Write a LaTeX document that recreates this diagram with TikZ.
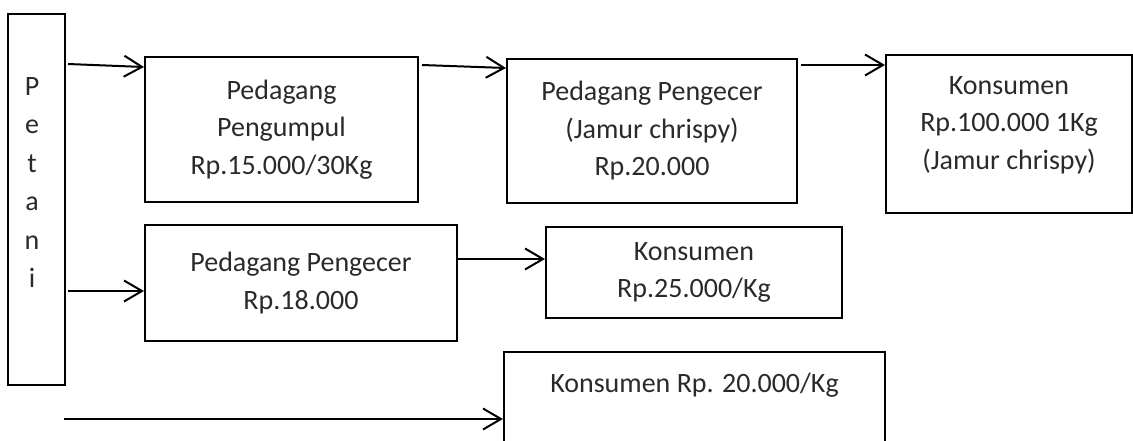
\documentclass[tikz,border=0pt]{standalone}
\usepackage{fontspec}
\setmainfont{Carlito}
\usetikzlibrary{arrows.meta,positioning,calc}
\definecolor{Ink}{HTML}{000000}
\definecolor{Txt}{HTML}{2A2A2A}

\begin{document}
\begin{tikzpicture}[
  x=1pt,y=-1pt,
  node distance=22pt,
  cell/.style={draw=Ink,line width=2pt,inner sep=0pt,align=center,text=Txt,font=\fontsize{28}{37.5}\selectfont},
  txt/.style={inner sep=0pt,align=center,text=Txt,font=\fontsize{28}{37.5}\selectfont},
  arrow/.style={-{Straight Barb[length=18pt,width=21pt]},line width=2pt,draw=Ink}
]
\useasboundingbox (0,0) rectangle (1133,440);
% petani column
\node[cell,minimum width=57pt,minimum height=371pt] (petani) at (36.5,199.5) {};
\node[txt,anchor=north,font=\fontsize{28}{38.5}\selectfont] (petaniname) at (32,77) {P\\e\\t\\a\\n\\i};
% first row
\node[cell,minimum width=273pt,minimum height=145pt] (pengumpul) at (281.5,129.5) {Pedagang\\Pengumpul\\Rp.15.000/30Kg};
\node[cell,minimum width=290pt,minimum height=144pt] (pengecerA) at (652,131) {Pedagang Pengecer\\(Jamur chrispy)\\Rp.20.000};
\node[cell,minimum width=246pt,minimum height=158pt] (konsumenA) at (1009,134) {};
\node[txt,below=of konsumenA.north] (konsumenAtext) {Konsumen\\Rp.100.000 1Kg\\(Jamur chrispy)};
% second row
\node[cell,minimum width=312pt,minimum height=116pt] (pengecerB) at (301,283) {Pedagang Pengecer\\Rp.18.000};
\node[cell,minimum width=296pt,minimum height=91pt] (konsumenB) at (694,272.5) {Konsumen\\Rp.25.000/Kg};
% third row
\node[cell,minimum width=381pt,minimum height=118pt] (konsumenC) at (694.5,411) {};
\node[txt,below=of konsumenC.north] (konsumenCtext) {Konsumen Rp. 20.000/Kg};
\coordinate (start) at (64,419);

\draw[arrow] ($(petani.north east)+(2,51)$) -- ($(pengumpul.north west)+(0,11)$);
\draw[arrow] ($(petani.east)+(2,91.5)$) -- ($(pengecerB.west)+(0,8)$);
\draw[arrow] ($(pengumpul.north east)+(3,9)$) -- ($(pengecerA.north west)+(0,10)$);
\draw[arrow] ($(pengecerA.north east)+(3,7)$) -- ($(konsumenA.north west)+(0,11)$);
\draw[arrow] ($(pengecerB.east)+(0,-24)$) -- ($(konsumenB.west)+(0,-13.5)$);
\draw[arrow] (start) -- (konsumenC.west |- start);
\end{tikzpicture}
\end{document}
